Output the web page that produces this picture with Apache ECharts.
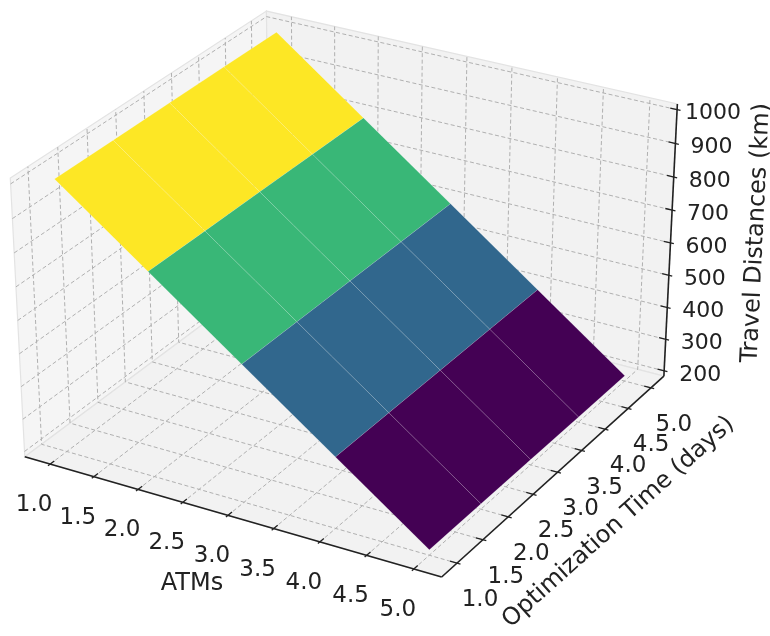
<!DOCTYPE html>
<html>
<head>
<meta charset="utf-8">
<script src="https://cdn.jsdelivr.net/npm/echarts@6/dist/echarts.min.js"></script>
<style>
html,body{margin:0;padding:0;background:#ffffff;}
#chart{width:770px;height:636px;}
</style>
</head>
<body>
<div id="chart"></div>
<script>
// ---------------- data ----------------
const atms = [1, 2, 3, 4, 5];
const optimizationDays = [1, 2, 3, 4, 5];
// rows: ATMs, columns: optimization days
const travelDistances = [
  [1000, 1000, 1000, 1000, 1000],
  [800, 800, 800, 800, 800],
  [600, 600, 600, 600, 600],
  [400, 400, 400, 400, 400],
  [200, 200, 200, 200, 200]
];
const atmTickLabels = ['1.0', '1.5', '2.0', '2.5', '3.0', '3.5', '4.0', '4.5', '5.0'];
const dayTickLabels = ['1.0', '1.5', '2.0', '2.5', '3.0', '3.5', '4.0', '4.5', '5.0'];
const distanceTickLabels = ['200', '300', '400', '500', '600', '700', '800', '900', '1000'];
const axisTitles = { x: 'ATMs', y: 'Optimization Time (days)', z: 'Travel Distances (km)' };

// axis limits (data range with margins)
const xLim = [0.8, 5.2];
const yLim = [0.8, 5.2];
const zLim = [200, 1000];

const viridis = ['#440154', '#482475', '#414487', '#355f8d', '#2a788e', '#21918c',
  '#22a884', '#44bf70', '#7ad151', '#bddf26', '#fde725'];

// ---------------- 3D projection (matplotlib-like, elev 30, azim -60) ----------------
function padded(l) { const d = (l[1] - l[0]) / 48; return [l[0] - d, l[1] + d]; }
const XB = padded(xLim), YB = padded(yLim), ZB = padded(zLim);
const TD = [(xLim[1] - xLim[0]) / 12, (yLim[1] - yLim[0]) / 12, (zLim[1] - zLim[0]) / 12];
const BOX = [4, 4, 3].map(v => v * 1.8294640721620434 / Math.sqrt(41));
const ELEV = 30 * Math.PI / 180, AZIM = -60 * Math.PI / 180, DIST = 10;
const W = [Math.cos(ELEV) * Math.cos(AZIM), Math.cos(ELEV) * Math.sin(AZIM), Math.sin(ELEV)];
const U = [-Math.sin(AZIM), Math.cos(AZIM), 0];
const V = [-Math.sin(ELEV) * Math.cos(AZIM), -Math.sin(ELEV) * Math.sin(AZIM), Math.cos(ELEV)];

function proj(x, y, z) {
  const q = [
    (x - XB[0]) / (XB[1] - XB[0]) * BOX[0] - BOX[0] / 2,
    (y - YB[0]) / (YB[1] - YB[0]) * BOX[1] - BOX[1] / 2,
    (z - ZB[0]) / (ZB[1] - ZB[0]) * BOX[2] - BOX[2] / 2
  ];
  const uq = U[0] * q[0] + U[1] * q[1] + U[2] * q[2];
  const vq = V[0] * q[0] + V[1] * q[1] + V[2] * q[2];
  const wq = W[0] * q[0] + W[1] * q[1] + W[2] * q[2];
  const d = DIST - wq;
  return [uq / d, vq / d];
}

// 2D view window of the projected space
const VIEW_X = [-0.083732, 0.100478];
const VIEW_Y = [-0.095739, 0.075782];

// ---------------- styles ----------------
const FONT = 'DejaVu Sans';
const FS = 23;
const FS_Z = 22;
const FS_TITLE = 24;
const TXT = '#222222';
const GRIDC = '#b0b0b0';
const AXC = '#222222';

// surface faces from the grid
const faceData = [];
for (let i = 0; i < atms.length - 1; i++) {
  for (let j = 0; j < optimizationDays.length - 1; j++) {
    const avg = (travelDistances[i][j] + travelDistances[i + 1][j] +
      travelDistances[i + 1][j + 1] + travelDistances[i][j + 1]) / 4;
    faceData.push([i, j, avg]);
  }
}
const avgs = faceData.map(d => d[2]);

function renderFrame(params, api) {
  const P = (x, y, z) => api.coord(proj(x, y, z));
  const ch = [];
  const pane = (pts, fill) => ch.push({ type: 'polygon', shape: { points: pts },
    style: { fill: fill, stroke: '#e3e3e3', lineWidth: 1.2 } });
  // panes
  pane([P(XB[0], YB[0], ZB[0]), P(XB[0], YB[1], ZB[0]), P(XB[0], YB[1], ZB[1]), P(XB[0], YB[0], ZB[1])], '#f5f5f5');
  pane([P(XB[0], YB[1], ZB[0]), P(XB[1], YB[1], ZB[0]), P(XB[1], YB[1], ZB[1]), P(XB[0], YB[1], ZB[1])], '#f2f2f2');
  pane([P(XB[0], YB[0], ZB[0]), P(XB[1], YB[0], ZB[0]), P(XB[1], YB[1], ZB[0]), P(XB[0], YB[1], ZB[0])], '#f2f2f2');
  const gl = (pts) => ch.push({ type: 'polyline', shape: { points: pts },
    style: { stroke: GRIDC, lineWidth: 1, lineDash: [4, 2.5], fill: null } });
  atmTickLabels.forEach(t => { const v = parseFloat(t);
    gl([P(v, YB[0], ZB[0]), P(v, YB[1], ZB[0]), P(v, YB[1], ZB[1])]); });
  dayTickLabels.forEach(t => { const v = parseFloat(t);
    gl([P(XB[1], v, ZB[0]), P(XB[0], v, ZB[0]), P(XB[0], v, ZB[1])]); });
  distanceTickLabels.forEach(t => { const v = parseFloat(t);
    gl([P(XB[0], YB[0], v), P(XB[0], YB[1], v), P(XB[1], YB[1], v)]); });
  // axis lines
  const al = (pts, lw) => ch.push({ type: 'polyline', shape: { points: pts },
    style: { stroke: AXC, lineWidth: lw, fill: null } });
  al([P(XB[0], YB[0], ZB[0]), P(XB[1], YB[0], ZB[0])], 1.6);
  al([P(XB[1], YB[0], ZB[0]), P(XB[1], YB[1], ZB[0])], 1.6);
  al([P(XB[1], YB[1], ZB[0]), P(XB[1], YB[1], ZB[1])], 1.6);
  const txt = (p, dx, dy, s, rot, fs) => ch.push({ type: 'text', x: p[0] + dx, y: p[1] + dy, rotation: rot || 0,
    style: { text: s, fontSize: fs || FS, fontFamily: FONT, fill: TXT, align: 'center', verticalAlign: 'middle' } });
  // ticks + labels
  atmTickLabels.forEach(t => { const v = parseFloat(t);
    al([P(v, YB[0] - 0.1 * TD[1], ZB[0]), P(v, YB[0] + 0.2 * TD[1], ZB[0])], 1.3);
    txt(P(v, YB[0], ZB[0]), -16, 41, t); });
  dayTickLabels.forEach(t => { const v = parseFloat(t);
    al([P(XB[1] + 0.1 * TD[0], v, ZB[0]), P(XB[1] - 0.2 * TD[0], v, ZB[0])], 1.3);
    txt(P(XB[1], v, ZB[0]), 23, 37, t); });
  distanceTickLabels.forEach(t => { const v = parseFloat(t);
    al([P(XB[1] + 0.1 * TD[0], YB[1], v), P(XB[1] - 0.2 * TD[0], YB[1], v)], 1.3);
    txt(P(XB[1], YB[1], v), 36, 4, t, 0, FS_Z); });
  // axis titles
  const xm = (xLim[0] + xLim[1]) / 2, ym = (yLim[0] + yLim[1]) / 2, zm = (zLim[0] + zLim[1]) / 2;
  txt(P(xm, YB[0], ZB[0]), -36, 68, axisTitles.x, 0, FS_TITLE);
  txt(P(XB[1], ym, ZB[0]), 61, 50, axisTitles.y, 42 * Math.PI / 180, FS_TITLE);
  txt(P(XB[1], YB[1], zm), 86, -10, axisTitles.z, 87.3 * Math.PI / 180, FS_TITLE);
  return { type: 'group', children: ch };
}

function renderFace(params, api) {
  const i = api.value(0), j = api.value(1);
  const P = (a, b) => api.coord(proj(atms[a], optimizationDays[b], travelDistances[a][b]));
  return {
    type: 'polygon',
    shape: { points: [P(i, j), P(i + 1, j), P(i + 1, j + 1), P(i, j + 1)] },
    style: { fill: api.visual('color'), stroke: 'rgba(255,255,255,0.16)', lineWidth: 0.8 }
  };
}

const chart = echarts.init(document.getElementById('chart'), null, { renderer: 'canvas' });
chart.setOption({
  animation: false,
  backgroundColor: '#ffffff',
  grid: { left: 0, top: 0, width: 770, height: 636 },
  xAxis: { type: 'value', min: VIEW_X[0], max: VIEW_X[1], show: false },
  yAxis: { type: 'value', min: VIEW_Y[0], max: VIEW_Y[1], show: false },
  visualMap: {
    show: false, type: 'continuous', seriesIndex: 1, dimension: 2,
    min: Math.min.apply(null, avgs), max: Math.max.apply(null, avgs),
    inRange: { color: viridis }
  },
  series: [
    { type: 'custom', coordinateSystem: 'cartesian2d', silent: true, clip: false,
      data: [[0, 0]], renderItem: renderFrame },
    { type: 'custom', coordinateSystem: 'cartesian2d', silent: true, clip: false,
      data: faceData, renderItem: renderFace }
  ]
});
</script>
</body>
</html>
